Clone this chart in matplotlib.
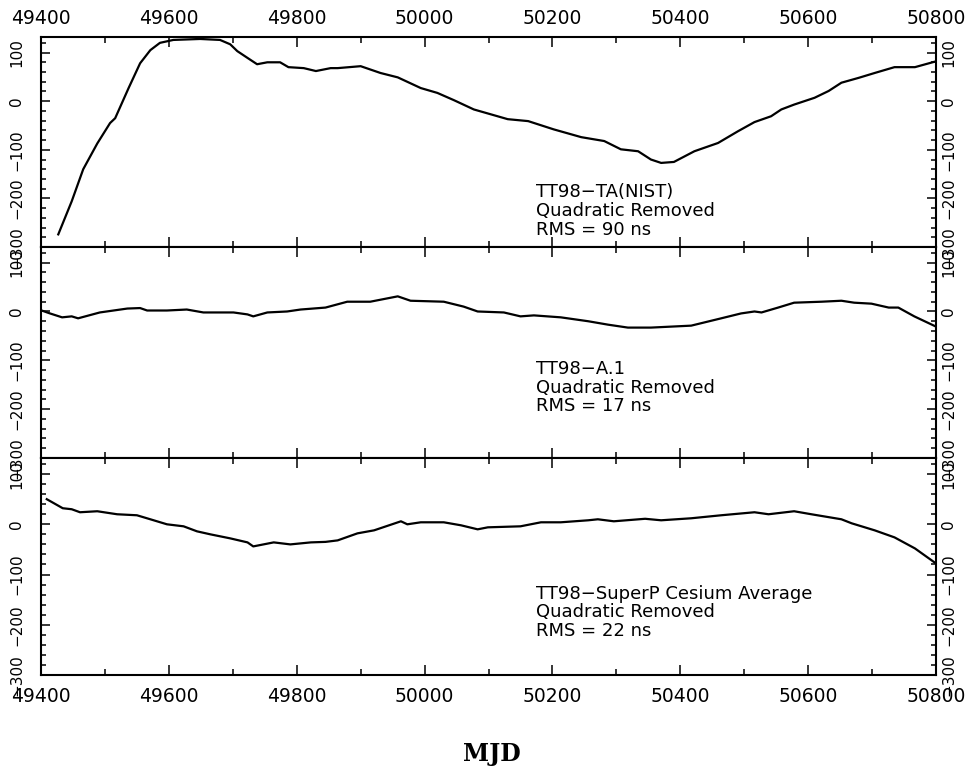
import matplotlib
matplotlib.use("Agg")
import matplotlib.pyplot as plt
from matplotlib.ticker import MultipleLocator
from matplotlib.transforms import ScaledTranslation

# TT98 - TA(NIST), quadratic removed
nist_mjd = [49427, 49448, 49466, 49488, 49508, 49516, 49537, 49555, 49571, 49586,
            49607, 49649, 49680, 49696, 49707, 49723, 49738, 49754, 49774, 49787,
            49811, 49830, 49853, 49864, 49900, 49931, 49958, 49994, 50020, 50046,
            50077, 50130, 50162, 50202, 50245, 50281, 50307, 50334, 50354, 50370,
            50390, 50422, 50459, 50490, 50516, 50542, 50558, 50578, 50610, 50632,
            50652, 50679, 50704, 50735, 50767, 50800]
nist_ns = [-274, -206, -140, -87, -45, -35, 27, 78, 105, 120,
           126, 128, 126, 117, 103, 89, 76, 80, 80, 70,
           68, 62, 68, 68, 72, 58, 49, 27, 17, 2,
           -17, -37, -41, -58, -74, -82, -99, -103, -120, -127,
           -125, -103, -86, -62, -43, -31, -17, -7, 7, 21,
           38, 48, 58, 70, 70, 82]

# TT98 - A.1
a1_mjd = [49401, 49414, 49433, 49448, 49458, 49492, 49535, 49555, 49566, 49597,
          49628, 49654, 49701, 49723, 49732, 49754, 49785, 49806, 49845, 49879,
          49915, 49958, 49978, 50030, 50061, 50083, 50124, 50150, 50171, 50213,
          50256, 50287, 50318, 50354, 50417, 50464, 50495, 50516, 50527, 50553,
          50578, 50621, 50652, 50672, 50699, 50726, 50741, 50766, 50800]
a1_ns = [2, -4, -12, -10, -14, -2, 6, 7, 2, 2,
         4, -2, -2, -6, -10, -2, 0, 4, 8, 20,
         20, 31, 22, 20, 10, 0, -2, -10, -8, -12,
         -20, -27, -33, -33, -29, -14, -4, 0, -2, 8,
         18, 20, 22, 18, 16, 8, 8, -10, -31]

# TT98 - SuperP cesium average
cs_mjd = [49409, 49434, 49448, 49461, 49488, 49519, 49550, 49571, 49597, 49623,
          49644, 49665, 49696, 49723, 49732, 49764, 49790, 49822, 49845, 49864,
          49895, 49921, 49963, 49973, 49994, 50030, 50057, 50083, 50099, 50150,
          50182, 50213, 50256, 50271, 50296, 50345, 50370, 50417, 50464, 50516,
          50538, 50578, 50605, 50652, 50668, 50704, 50735, 50767, 50800]
cs_ns = [50, 32, 30, 24, 26, 20, 18, 10, 0, -4,
         -14, -20, -28, -36, -44, -36, -40, -36, -35, -32,
         -18, -12, 6, 0, 4, 4, -2, -10, -6, -4,
         4, 4, 8, 10, 6, 11, 8, 12, 18, 24,
         20, 26, 20, 10, 2, -12, -26, -48, -78]

labels = ["TT98\u2212TA(NIST)\nQuadratic Removed\nRMS = 90 ns",
          "TT98\u2212A.1\nQuadratic Removed\nRMS = 17 ns",
          "TT98\u2212SuperP Cesium Average\nQuadratic Removed\nRMS = 22 ns"]
label_y = [-226, -156, -175]

series = [(nist_mjd, nist_ns), (a1_mjd, a1_ns), (cs_mjd, cs_ns)]

fig, axes = plt.subplots(3, 1, figsize=(9.72, 7.68), dpi=100, sharex=True,
                         gridspec_kw={"height_ratios": [210, 211, 217]})
fig.subplots_adjust(left=0.0422, right=0.963, top=0.9518, bottom=0.1211, hspace=0)

for i, ax in enumerate(axes):
    x, y = series[i]
    ax.plot(x, y, color="black", lw=1.6)
    ax.set_xlim(49400, 50800)
    ax.set_ylim(-300, 132)
    ax.xaxis.set_major_locator(MultipleLocator(200))
    ax.xaxis.set_minor_locator(MultipleLocator(100))
    ax.yaxis.set_major_locator(MultipleLocator(100))
    ax.yaxis.set_minor_locator(MultipleLocator(20))
    for s in ax.spines.values():
        s.set_linewidth(1.5)
    ax.tick_params(which="both", direction="in", top=True, right=True,
                   labelleft=True, labelright=True, width=1.1)
    ax.tick_params(axis="x", which="major", length=7.2)
    ax.tick_params(axis="x", which="minor", length=4.3)
    ax.tick_params(axis="y", which="major", length=6.5)
    ax.tick_params(axis="y", which="minor", length=3.6)
    ax.tick_params(axis="x", labelsize=13.5, labeltop=(i == 0), labelbottom=(i == 2),
                   pad=6.5 if i == 0 else 8.6)
    ax.tick_params(axis="y", labelsize=11, labelrotation=90, pad=12)
    ax.text(50175, label_y[i], labels[i], fontsize=13, ha="left", va="center",
            linespacing=1.05)

# left labels centred on the tick, right labels close to the frame
for ax in axes:
    right_tr = ax.get_yaxis_transform(which="tick2") + ScaledTranslation(5 / 100, 0, fig.dpi_scale_trans)
    for t in ax.yaxis.get_major_ticks():
        t.label1.set_va("center")
        t.label2.set_va("center")
        t.label2.set_transform(right_tr)

fig.text(0.506, 0.018, "MJD", family="DejaVu Serif", weight="bold",
         fontsize=17, ha="center", va="center")

plt.savefig("out.png", dpi=100)
